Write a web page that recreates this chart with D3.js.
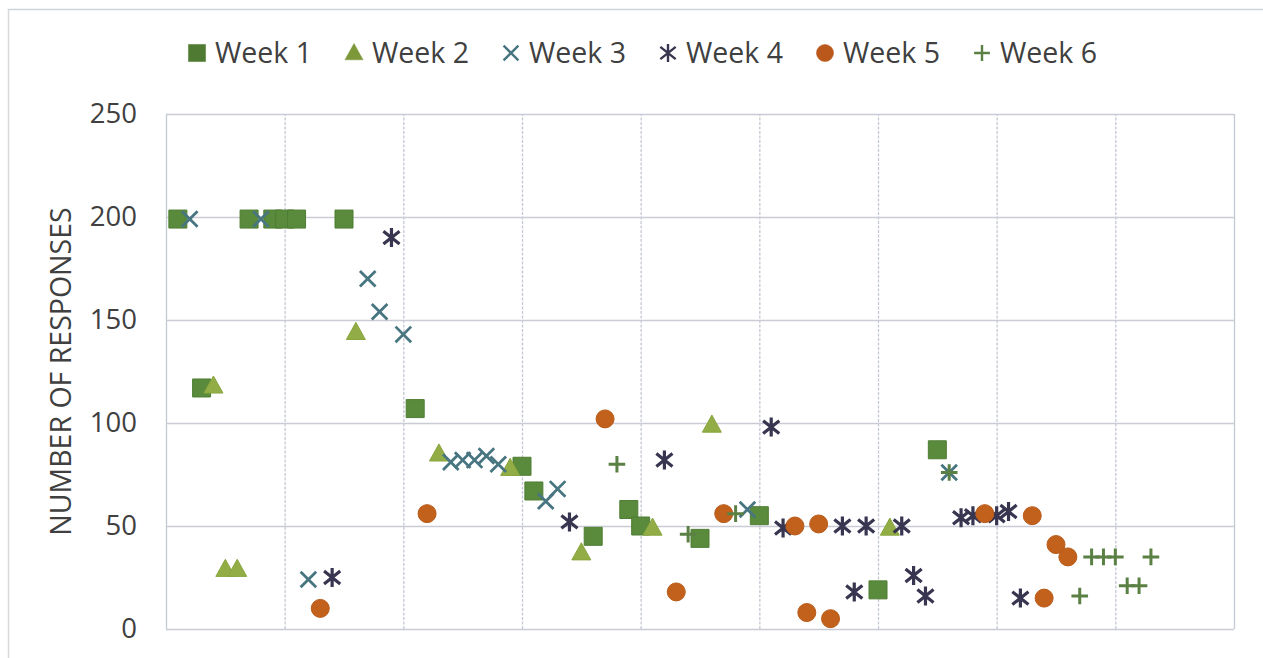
<!DOCTYPE html>
<html>
<head>
<meta charset="utf-8">
<script src="https://cdn.jsdelivr.net/npm/d3@7"></script>
<style>
  html, body { margin: 0; padding: 0; background: #ffffff; }
  svg { display: block; }
  text { font-family: "Open Sans", "Noto Sans", sans-serif; fill: #404040; }
</style>
</head>
<body>
<svg id="chart" width="1263" height="658"></svg>
<script>
// Series names shown in the legend
const weekNames = ["Week 1", "Week 2", "Week 3", "Week 4", "Week 5", "Week 6"];

// Each point: [position along the horizontal axis, number of responses]
const week1 = [[1,199],[3,117],[7,199],[9,199],[10,199],[11,199],[15,199],[21,107],[30,79],[31,67],
               [36,45],[39,58],[40,50],[45,44],[50,55],[60,19],[65,87]];
const week2 = [[4,118],[5,29],[6,29],[16,144],[23,85],[29,78],[35,37],[41,49],[46,99],[61,49]];
const week3 = [[2,199],[8,199],[12,24],[17,170],[18,154],[20,143],[24,81],[25,82],[26,82],[27,84],
               [28,80],[32,62],[33,68],[49,58],[66,76]];
const week4 = [[14,25],[19,190],[34,52],[42,82],[51,98],[52,49],[57,50],[58,18],[59,50],[62,50],
               [63,26],[64,16],[67,54],[68,55],[70,55],[71,57],[72,15]];
const week5 = [[13,10],[22,56],[37,102],[43,18],[47,56],[53,50],[54,8],[55,51],[56,5],[69,56],
               [73,55],[74,15],[75,41],[76,35]];
const week6 = [[38,80],[44,46],[48,56],[66,76],[77,16],[78,35],[79,35],[80,35],[81,21],[82,21],[83,35]];

// Axis ticks
const yTickValues = [0, 50, 100, 150, 200, 250];
const xTickValues = [0, 10, 20, 30, 40, 50, 60, 70, 80, 90];
const yTitle = "NUMBER OF RESPONSES";

const W = 1263, H = 658;
const margin = { top: 114, right: 29, bottom: 29, left: 166 };
const svg = d3.select("#chart");

const x = d3.scaleLinear().domain([0, 90]).range([margin.left, W - margin.right]);
const y = d3.scaleLinear().domain([0, 250]).range([H - margin.bottom, margin.top]);

// Outer chart frame (top and left edges)
svg.append("line").attr("x1", 8).attr("x2", W).attr("y1", 9.5).attr("y2", 9.5)
  .attr("stroke", "#cfd2d6").attr("stroke-width", 1.5);
svg.append("line").attr("x1", 8.5).attr("x2", 8.5).attr("y1", 9).attr("y2", H)
  .attr("stroke", "#d6d8dc").attr("stroke-width", 1.5);

// Gridlines
const grid = svg.append("g");
grid.append("g")
  .attr("transform", `translate(0,${H - margin.bottom})`)
  .call(d3.axisBottom(x).tickValues(xTickValues).tickSize(-(H - margin.top - margin.bottom)).tickFormat(""))
  .call(g => g.select(".domain").remove())
  .call(g => g.selectAll("line").attr("stroke", "#c4c8d3").attr("stroke-width", 1.3)
    .attr("stroke-dasharray", (d) => (d === 0 || d === 90) ? null : "3,1.5"));

grid.append("g")
  .attr("transform", `translate(${margin.left},0)`)
  .call(d3.axisLeft(y).tickValues(yTickValues).tickSize(-(W - margin.left - margin.right)).tickFormat(""))
  .call(g => g.select(".domain").remove())
  .call(g => g.selectAll("line").attr("stroke", "#c9ccd6").attr("stroke-width", 1.3));

// Y tick labels
svg.append("g")
  .attr("transform", `translate(${margin.left},0)`)
  .call(d3.axisLeft(y).tickValues(yTickValues).tickSize(0).tickPadding(29))
  .call(g => g.select(".domain").remove())
  .call(g => g.selectAll("text")
    .style("font-family", '"Open Sans", sans-serif')
    .attr("font-size", 27.5).attr("fill", "#3a3a3a"));

// Y axis title
svg.append("text")
  .attr("transform", `translate(71,${(y(0) + y(250)) / 2}) rotate(-90)`)
  .attr("text-anchor", "middle")
  .attr("font-size", 28.5)
  .attr("fill", "#3a3a3a")
  .text(yTitle);

// Marker shapes, size = half-width in px
const squareSym = { draw(c, r) { c.rect(-r, -r, 2 * r, 2 * r); } };
const triangleSym = { draw(c, r) { c.moveTo(0, -r * 1.05); c.lineTo(r, r * 0.75); c.lineTo(-r, r * 0.75); c.closePath(); } };
const timesSym = { draw(c, r) { c.moveTo(-r, -r); c.lineTo(r, r); c.moveTo(-r, r); c.lineTo(r, -r); } };
const starSym = { draw(c, r) {
  const a = r * 0.85;
  c.moveTo(-a, -a * 0.8); c.lineTo(a, a * 0.8); c.moveTo(-a, a * 0.8); c.lineTo(a, -a * 0.8);
  c.moveTo(0, -r); c.lineTo(0, r);
} };
const plusSym = { draw(c, r) { c.moveTo(-r, 0); c.lineTo(r, 0); c.moveTo(0, -r); c.lineTo(0, r); } };
const circleSym = { draw(c, r) { c.moveTo(r, 0); c.arc(0, 0, r, 0, 2 * Math.PI); } };

const series = [
  { data: week1, sym: squareSym, r: 9, fill: "#5a8a3b", stroke: "#4f7d34", sw: 1, legendFill: "#4e7a32" },
  { data: week2, sym: triangleSym, r: 9.5, fill: "#92ad45", stroke: "#89a63e", sw: 1, legendFill: "#7c9838" },
  { data: week3, sym: timesSym, r: 7.8, fill: "none", stroke: "#477580", sw: 2.8 },
  { data: week4, sym: starSym, r: 9.5, fill: "none", stroke: "#37354f", sw: 3.2 },
  { data: week5, sym: circleSym, r: 9, fill: "#c1611c", stroke: "#b85a18", sw: 1, legendFill: "#b9581a" },
  { data: week6, sym: plusSym, r: 8.3, fill: "none", stroke: "#5b8044", sw: 3 }
];

const marks = svg.append("g");
series.forEach((s, i) => {
  marks.append("g").attr("class", "week-" + (i + 1))
    .selectAll("path")
    .data(s.data)
    .join("path")
    .attr("transform", d => `translate(${x(d[0])},${y(d[1])})`)
    .attr("d", d3.symbol().type(s.sym).size(s.r))
    .attr("fill", s.fill)
    .attr("stroke", s.stroke)
    .attr("stroke-width", s.sw);
});

// Legend
const legend = svg.append("g").attr("transform", "translate(197,53)");
const step = 157;
series.forEach((s, i) => {
  const g = legend.append("g").attr("transform", `translate(${i * step},0)`);
  g.append("path")
    .attr("d", d3.symbol().type(s.sym).size(s.r * 0.95))
    .attr("fill", s.legendFill || s.fill)
    .attr("stroke", s.fill === "none" ? s.stroke : (s.legendFill || s.stroke))
    .attr("stroke-width", s.fill === "none" ? 2.4 : 0.5);
  g.append("text")
    .attr("x", 18)
    .attr("y", 10)
    .attr("font-size", 28.5)
    .attr("fill", "#3a3a3a")
    .text(weekNames[i]);
});
</script>
</body>
</html>
